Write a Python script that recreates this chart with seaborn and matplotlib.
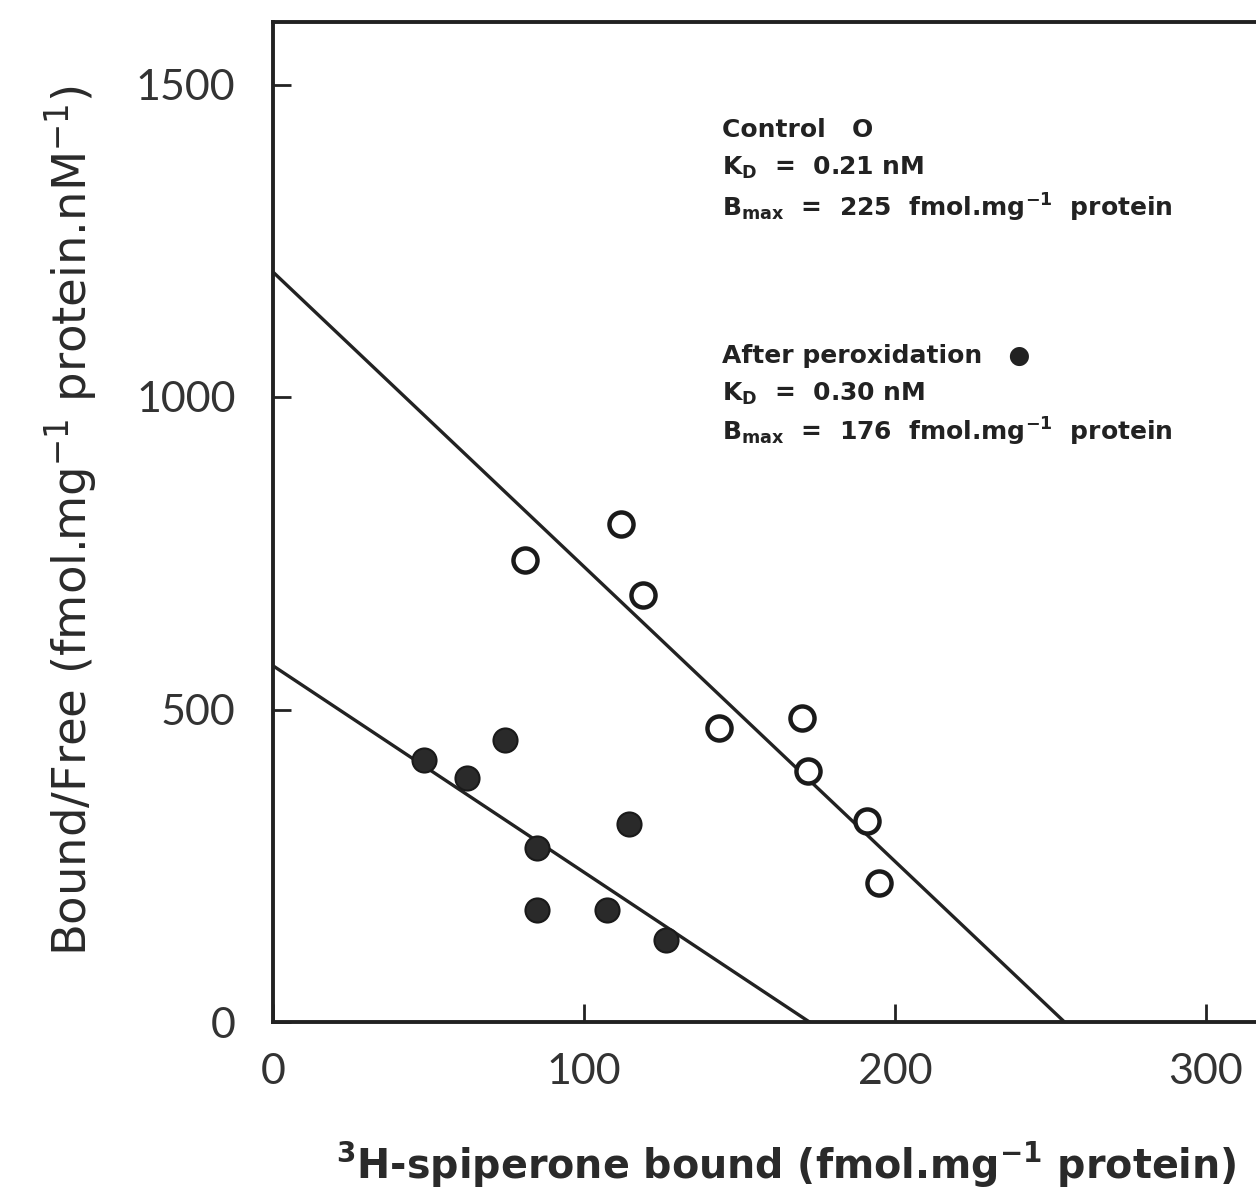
import pandas as pd
import matplotlib.pyplot as plt
import seaborn as sns

# Scatchard plot data
control_bound = [81, 112, 119, 143.5, 170, 172, 191, 195]
control_ratio = [739, 797, 683, 471, 487, 402, 322, 222]
perox_bound = [48.5, 62.5, 74.5, 114.5, 85, 85, 107.5, 126.5]
perox_ratio = [419, 390, 452, 317, 278, 179, 179, 131]

# fitted lines (end points as drawn)
control_line_x = [0, 254.5]
control_line_y = [1200, 0]
perox_line_x = [0, 172.5]
perox_line_y = [570, 0]

xticks = [0, 100, 200, 300]
yticks = [0, 500, 1000, 1500]

sns.set_theme(style="ticks")
plt.rcParams['font.family'] = ['DejaVu Sans']
plt.rcParams['mathtext.default'] = 'regular'

fig = plt.figure(figsize=(12.56, 11.93), dpi=100)
ax_w = 3.11 * 330
ax = fig.add_axes([273 / 1256, 1 - 1022 / 1193, ax_w / 1256, (1022 - 22) / 1193])

df_c = pd.DataFrame({"bound": control_bound, "ratio": control_ratio})
df_p = pd.DataFrame({"bound": perox_bound, "ratio": perox_ratio})

sns.lineplot(x=control_line_x, y=control_line_y, ax=ax, color="#222222", lw=2.4)
sns.lineplot(x=perox_line_x, y=perox_line_y, ax=ax, color="#222222", lw=2.4)
sns.scatterplot(data=df_c, x="bound", y="ratio", ax=ax, marker="o", s=300,
                facecolor="white", edgecolor="#1a1a1a", linewidth=3.2, zorder=3)
sns.scatterplot(data=df_p, x="bound", y="ratio", ax=ax, marker="o", s=300,
                color="#2a2a2a", edgecolor="#1a1a1a", linewidth=1.5, zorder=3)

ax.set_xlim(0, 330)
ax.set_ylim(0, 1600)
ax.set_xticks(xticks)
ax.set_yticks(yticks)
ax.tick_params(direction="in", length=13, width=2, colors="#222222",
               labelsize=31, labelcolor="#333333")
ax.tick_params(axis="y", pad=27)
ax.tick_params(axis="x", pad=22)
for lab in ax.get_xticklabels() + ax.get_yticklabels():
    lab.set_family("Lato")
for sp in ax.spines.values():
    sp.set_linewidth(2.8)
    sp.set_color("#222222")

ax.set_xlabel("$^3$H-spiperone bound (fmol.mg$^{-1}$ protein)", fontsize=28.5,
              fontweight="bold", color="#2a2a2a")
ax.xaxis.set_label_coords((786 - 273) / ax_w, -(1140 - 1022) / 1000)
ax.set_ylabel("Bound/Free (fmol.mg$^{-1}$ protein.nM$^{-1}$)", fontsize=33.5,
              color="#2a2a2a")
ax.yaxis.set_label_coords(-(273 - 100) / ax_w, (1022 - 520) / 1000)

txt = dict(transform=fig.transFigure, fontsize=18, fontweight="bold", color="#222222",
           ha="left", va="center")
fig.text(722 / 1256, 1 - 130 / 1193, "Control   O", **txt)
fig.text(722 / 1256, 1 - 168 / 1193, "K$_D$  =  0.21 nM", **txt)
fig.text(722 / 1256, 1 - 208 / 1193, "B$_{max}$  =  225  fmol.mg$^{-1}$  protein", **txt)
fig.text(722 / 1256, 1 - 356 / 1193, "After peroxidation   ●", **txt)
fig.text(722 / 1256, 1 - 394 / 1193, "K$_D$  =  0.30 nM", **txt)
fig.text(722 / 1256, 1 - 432 / 1193, "B$_{max}$  =  176  fmol.mg$^{-1}$  protein", **txt)

fig.savefig("out.png", dpi=100)
plt.close(fig)
